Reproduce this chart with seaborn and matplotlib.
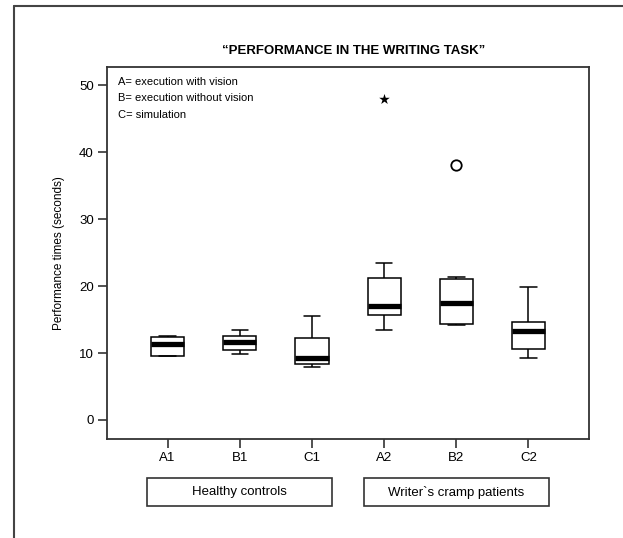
import numpy as np
import pandas as pd
import matplotlib.pyplot as plt
import matplotlib.transforms as mtransforms
from matplotlib.lines import Line2D
from matplotlib.patches import Rectangle
import seaborn as sns

# Performance times (seconds), per condition
groups = ['A1', 'B1', 'C1', 'A2', 'B2', 'C2']
a1_times = [9.5, 9.6, 9.6, 10.8, 11.4, 12.0, 12.4, 12.5, 12.6]
b1_times = [9.9, 10.2, 10.45, 11.2, 11.7, 12.2, 12.6, 13.0, 13.4]
c1_times = [7.95, 8.2, 8.35, 8.8, 9.2, 10.5, 12.2, 13.8, 15.5]
a2_times = [13.5, 15.0, 15.7, 16.4, 17.0, 19.0, 21.2, 23.4, 48.0]
b2_times = [14.2, 14.3, 14.4, 15.5, 17.4, 19.5, 21.0, 21.3, 38.0]
c2_times = [9.3, 10.0, 10.6, 12.2, 13.3, 14.0, 14.7, 17.0, 19.9]
all_times = [a1_times, b1_times, c1_times, a2_times, b2_times, c2_times]

subject_groups = ['Healthy controls', 'Writer`s cramp patients']
legend_lines = ['A= execution with vision', 'B= execution without vision', 'C= simulation']
yticks = [0, 10, 20, 30, 40, 50]

df = pd.DataFrame({
    'Group': [g for g, vals in zip(groups, all_times) for _ in vals],
    'Time': [v for vals in all_times for v in vals],
})

# SPSS style outliers: circle beyond 1.5 IQR, star beyond 3 IQR
rows = []
for g, vals in zip(groups, all_times):
    q1, q3 = np.percentile(vals, [25, 75])
    iqr = q3 - q1
    for v in vals:
        if v > q3 + 1.5 * iqr or v < q1 - 1.5 * iqr:
            kind = 'extreme' if (v > q3 + 3 * iqr or v < q1 - 3 * iqr) else 'outlier'
            rows.append({'Group': g, 'Time': v, 'Kind': kind})
out_df = pd.DataFrame(rows)

sns.set_style('ticks')
plt.rcParams['font.family'] = ['Liberation Sans', 'DejaVu Sans']
plt.rcParams['text.color'] = 'black'

line_col = '#333333'
fig = plt.figure(figsize=(6.23, 5.38), dpi=100)
ax = fig.add_axes([0.1718, 0.184, 0.7737, 0.6914])

sns.boxplot(data=df, x='Group', y='Time', order=groups, ax=ax,
            color='white', linecolor='black', linewidth=1.1, width=0.46,
            whis=1.5, showfliers=False,
            medianprops=dict(color='black', linewidth=3.8, solid_capstyle='butt'))

ext = out_df[out_df['Kind'] == 'extreme']
outl = out_df[out_df['Kind'] == 'outlier']
sns.stripplot(data=ext, x='Group', y='Time', order=groups, ax=ax, jitter=False,
              marker='*', size=8, color='black', linewidth=0)
sns.stripplot(data=outl, x='Group', y='Time', order=groups, ax=ax, jitter=False,
              marker='o', size=7.5, color='white', edgecolor='black', linewidth=1.3)

ax.set_xlabel('')
ax.set_ylabel('Performance times (seconds)', fontsize=8.5, color='black')
ax.yaxis.set_label_coords(-0.087, 0.5)
ax.set_yticks(yticks)
ax.tick_params(direction='out', length=6.5, width=1.2, color=line_col,
               labelcolor='black', labelsize=9.5, pad=3, bottom=True, left=True)
for s in ax.spines.values():
    s.set_visible(True)
    s.set_linewidth(1.3)
    s.set_color(line_col)

# condition legend in the top left corner
for i, txt in enumerate(legend_lines):
    ax.text(0.022, 0.9605 - i * 0.045, txt, transform=ax.transAxes,
            fontsize=8, va='center', ha='left', color='black')

# group boxes under the x axis
trans = mtransforms.blended_transform_factory(ax.transData, ax.transAxes)
for i, label in enumerate(subject_groups):
    center = np.mean(range(3 * i, 3 * i + 3))
    ax.add_patch(Rectangle((center - 1.28, -0.18), 2.56, 0.075, transform=trans,
                           clip_on=False, fill=False, lw=1.2, ec=line_col))
    ax.text(center, -0.1435, label, transform=trans, ha='center', va='center',
            fontsize=9.5, color='black')

ax.set_xlim(-0.84, 5.84)
ax.set_ylim(-2.84, 52.7)

fig.text(0.5676, 0.9056, '\u201cPERFORMANCE IN THE WRITING TASK\u201d',
         ha='center', va='center', fontsize=9.5, fontweight='bold', color='black')

# outer frame of the panel (left and top edges)
fig.add_artist(Line2D([0.0225, 0.0225], [0, 0.989], transform=fig.transFigure,
                      color='#444444', lw=1.5))
fig.add_artist(Line2D([0.0225, 1.0], [0.989, 0.989], transform=fig.transFigure,
                      color='#444444', lw=1.5))

fig.savefig('out.png', dpi=100)
